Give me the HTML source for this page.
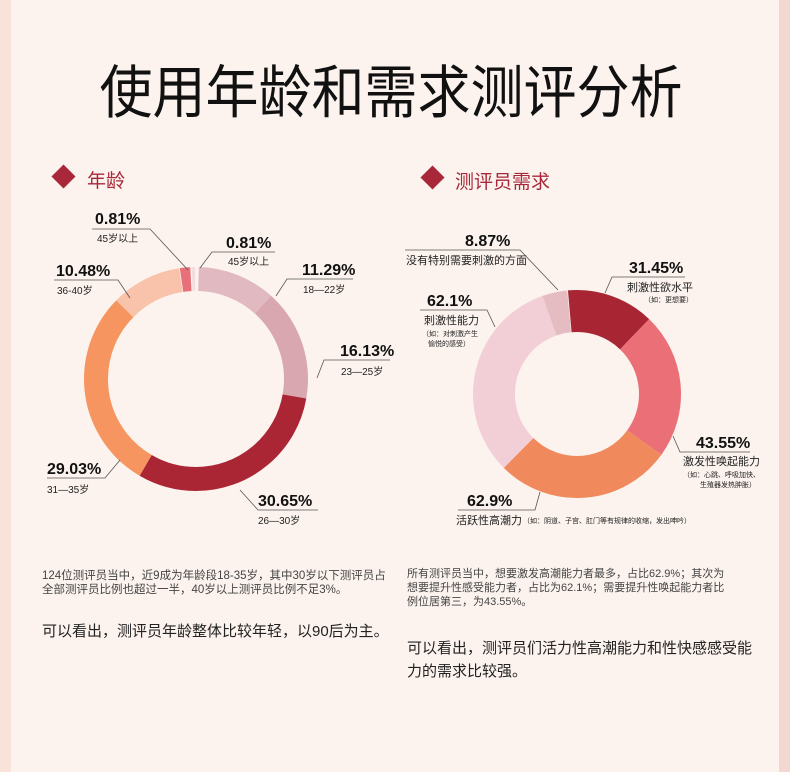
<!DOCTYPE html>
<html><head><meta charset="utf-8"><style>
html,body{margin:0;padding:0;background:#fcf3ee;}
svg{display:block;font-family:"Liberation Sans","Noto Sans CJK SC",sans-serif;}
</style></head><body>
<svg width="790" height="772" viewBox="0 0 790 772" xmlns="http://www.w3.org/2000/svg">
<rect width="790" height="772" fill="#fcf3ee"/>
<rect x="0" y="0" width="11" height="772" fill="#f9e2da"/>
<rect x="779" y="0" width="11" height="772" fill="#f3d8d2"/>
<text x="391" y="112" font-size="53" text-anchor="middle" fill="#111" font-family="Noto Sans CJK SC,sans-serif" transform="translate(391 0) scale(1 1.08) translate(-391 -8)">使用年龄和需求测评分析</text>
<rect x="55" y="168" width="17" height="17" fill="#a8283a" transform="rotate(45 63.5 176.5)"/>
<text x="87" y="187" font-size="19" fill="#a8283a">年龄</text>
<rect x="424" y="169" width="17" height="17" fill="#a8283a" transform="rotate(45 432.5 177.5)"/>
<text x="455" y="188" font-size="19" fill="#a8283a">测评员需求</text>

<!-- left donut -->
<g transform="rotate(-90 196 379)" fill="none" stroke-width="24">
<circle cx="196" cy="379" r="100" pathLength="100" stroke="#e1b9c0" stroke-dasharray="11.29 100" stroke-dashoffset="-0.4"/>
<circle cx="196" cy="379" r="100" pathLength="100" stroke="#d9a7b0" stroke-dasharray="16.13 100" stroke-dashoffset="-11.69"/>
<circle cx="196" cy="379" r="100" pathLength="100" stroke="#ab2634" stroke-dasharray="30.65 100" stroke-dashoffset="-27.82"/>
<circle cx="196" cy="379" r="100" pathLength="100" stroke="#f6955f" stroke-dasharray="29.03 100" stroke-dashoffset="-58.47"/>
<circle cx="196" cy="379" r="100" pathLength="100" stroke="#f8c2ab" stroke-dasharray="10.2 100" stroke-dashoffset="-87.5"/>
<circle cx="196" cy="379" r="100" pathLength="100" stroke="#e8707a" stroke-dasharray="1.5 100" stroke-dashoffset="-97.8"/>
<circle cx="196" cy="379" r="100" pathLength="100" stroke="#f3dcdf" stroke-dasharray="0.5 100" stroke-dashoffset="-99.5"/>
</g>

<!-- right donut -->
<g transform="rotate(-95 577 394)" fill="none" stroke-width="42">
<circle cx="577" cy="394" r="83" pathLength="360" stroke="#a82634" stroke-dasharray="49 400" stroke-dashoffset="0"/>
<circle cx="577" cy="394" r="83" pathLength="360" stroke="#ea6f77" stroke-dasharray="82 400" stroke-dashoffset="-49"/>
<circle cx="577" cy="394" r="83" pathLength="360" stroke="#f0895b" stroke-dasharray="99 400" stroke-dashoffset="-131"/>
<circle cx="577" cy="394" r="83" pathLength="360" stroke="#f2cfd6" stroke-dasharray="116 400" stroke-dashoffset="-230"/>
<circle cx="577" cy="394" r="83" pathLength="360" stroke="#e6bcc3" stroke-dasharray="14 400" stroke-dashoffset="-346"/>
</g>

<g stroke="#555" stroke-width="0.8" fill="none">
<polyline points="92,229 150,229 188,270"/>
<polyline points="275,252 212,252 200,268"/>
<polyline points="353,279 287,279 276,296"/>
<polyline points="390,360 324,360 317,378"/>
<polyline points="54,280 118,280 130,298"/>
<polyline points="47,478 105,478 120,460"/>
<polyline points="318,510 258,510 240,490"/>
<polyline points="405,250 520,250 558,290"/>
<polyline points="685,277 612,277 605,293"/>
<polyline points="420,310 487,310 495,327"/>
<polyline points="750,452 680,452 673,436"/>
<polyline points="458,510 535,510 540,492"/>
</g>

<g fill="#111" font-weight="bold" font-size="16">
<text x="95" y="224">0.81%</text>
<text x="226" y="248">0.81%</text>
<text x="302" y="275">11.29%</text>
<text x="340" y="356">16.13%</text>
<text x="56" y="276">10.48%</text>
<text x="47" y="474">29.03%</text>
<text x="258" y="506">30.65%</text>
<text x="465" y="246">8.87%</text>
<text x="629" y="273">31.45%</text>
<text x="427" y="306">62.1%</text>
<text x="696" y="448">43.55%</text>
<text x="467" y="506">62.9%</text>
</g>
<g fill="#222" font-size="10">
<text x="97" y="242">45岁以上</text>
<text x="228" y="265">45岁以上</text>
<text x="303" y="293">18—22岁</text>
<text x="341" y="375">23—25岁</text>
<text x="57" y="294">36-40岁</text>
<text x="47" y="493">31—35岁</text>
<text x="258" y="524">26—30岁</text>
<text x="406" y="264" font-size="11">没有特别需要刺激的方面</text>
<text x="627" y="291" font-size="11">刺激性欲水平</text>
<text x="644" y="302" font-size="7">（如：更想要）</text>
<text x="424" y="324" font-size="11">刺激性能力</text>
<text x="422" y="336" font-size="7">（如：对刺激产生</text>
<text x="428" y="346" font-size="7">愉悦的感受）</text>
<text x="683" y="465" font-size="11">激发性唤起能力</text>
<text x="683" y="477" font-size="7">（如：心跳、呼吸加快、</text>
<text x="700" y="487" font-size="7">生殖器发热肿胀）</text>
<text x="456" y="524" font-size="11">活跃性高潮力</text>
<text x="523" y="523" font-size="7">（如：阴道、子宫、肛门等有规律的收缩，发出呻吟）</text>
</g>

<g fill="#444" font-size="11.5">
<text x="42" y="579">124位测评员当中，近9成为年龄段18-35岁，其中30岁以下测评员占</text>
<text x="42" y="593">全部测评员比例也超过一半，40岁以上测评员比例不足3%。</text>
<text x="407" y="577" font-size="11">所有测评员当中，想要激发高潮能力者最多，占比62.9%；其次为</text>
<text x="407" y="591" font-size="11">想要提升性感受能力者，占比为62.1%；需要提升性唤起能力者比</text>
<text x="407" y="605" font-size="11">例位居第三，为43.55%。</text>
</g>
<g fill="#222" font-size="15">
<text x="42" y="636">可以看出，测评员年龄整体比较年轻，以90后为主。</text>
<text x="407" y="653">可以看出，测评员们活力性高潮能力和性快感感受能</text>
<text x="407" y="676">力的需求比较强。</text>
</g>
</svg>
</body></html>
